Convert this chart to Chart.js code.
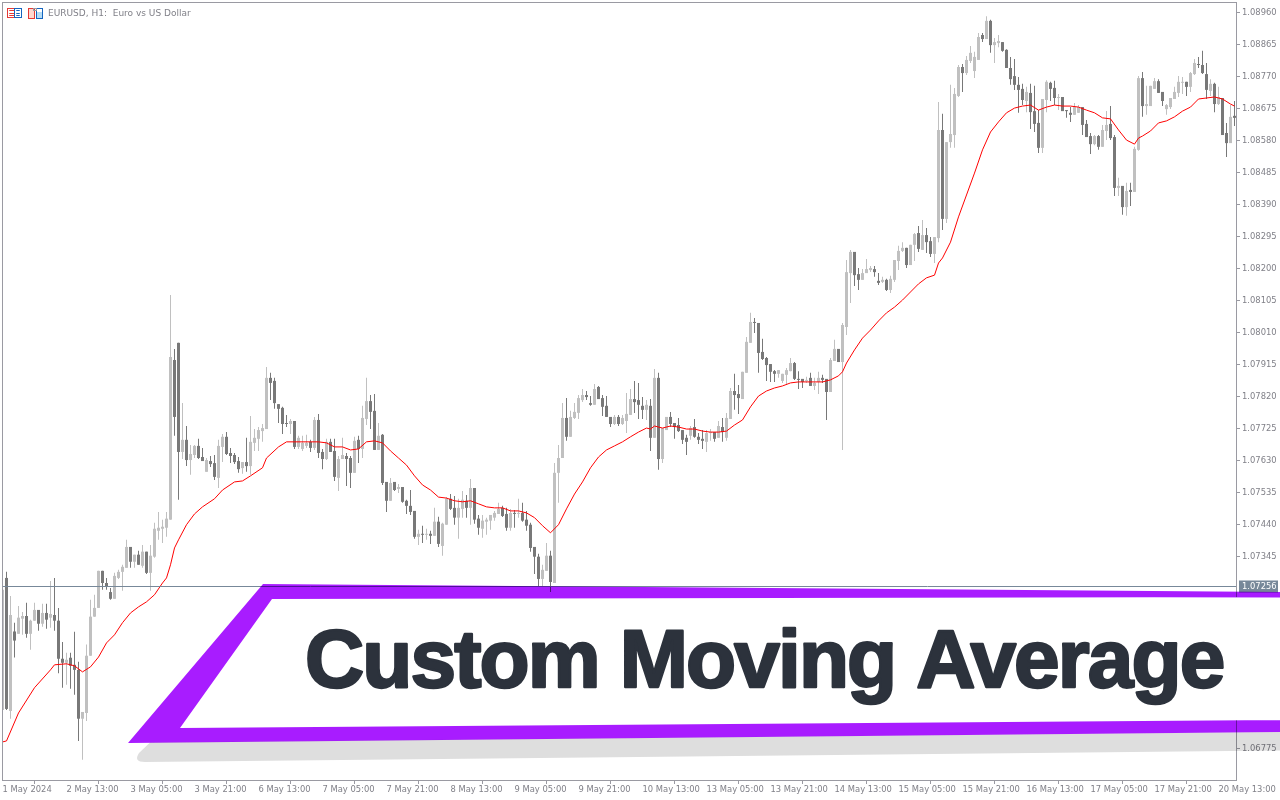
<!DOCTYPE html>
<html>
<head>
<meta charset="utf-8">
<title>EURUSD, H1</title>
<script src="https://cdn.jsdelivr.net/npm/chart.js@4"></script>
<style>
  html, body { margin: 0; padding: 0; background: #ffffff; }
  #wrap { position: relative; width: 1280px; height: 800px; }
</style>
</head>
<body>
<div id="wrap"><canvas id="chart" width="1280" height="800"></canvas></div>
<script>
// Candles
const opens = [
  1.06888,1.07280,1.06885,1.07121,1.07114,1.07159,1.07167,1.07114,1.07153,1.07185,
  1.07144,1.07176,1.07162,1.07170,1.07153,1.07040,1.07028,1.07043,1.07022,1.07007,
  1.06862,1.06879,1.07049,1.07165,1.07191,1.07301,1.07265,1.07238,1.07218,1.07280,
  1.07298,1.07310,1.07372,1.07328,1.07349,1.07316,1.07358,1.07295,1.07343,1.07420,
  1.07426,1.07429,1.07453,1.07927,1.07978,1.07654,1.07690,1.07630,1.07645,1.07672,
  1.07639,1.07595,1.07627,1.07621,1.07577,1.07669,1.07699,1.07651,1.07645,1.07627,
  1.07606,1.07624,1.07612,1.07681,1.07693,1.07716,1.07722,1.07874,1.07865,1.07796,
  1.07785,1.07740,1.07737,1.07746,1.07669,1.07663,1.07672,1.07684,1.07666,1.07749,
  1.07654,1.07633,1.07684,1.07657,1.07577,1.07633,1.07642,1.07636,1.07592,1.07690,
  1.07663,1.07752,1.07805,1.07776,1.07660,1.07705,1.07565,1.07509,1.07565,1.07544,
  1.07550,1.07509,1.07494,1.07479,1.07402,1.07411,1.07408,1.07411,1.07405,1.07447,
  1.07375,1.07438,1.07515,1.07488,1.07459,1.07485,1.07509,1.07488,1.07547,1.07456,
  1.07426,1.07447,1.07450,1.07459,1.07470,1.07488,1.07470,1.07429,1.07473,1.07470,
  1.07473,1.07453,1.07438,1.07372,1.07343,1.07277,1.07301,1.07346,1.07265,1.07592,
  1.07636,1.07755,1.07699,1.07755,1.07770,1.07808,1.07823,1.07799,1.07794,1.07847,
  1.07814,1.07791,1.07758,1.07737,1.07758,1.07737,1.07746,1.07764,1.07811,1.07808,
  1.07791,1.07779,1.07791,1.07696,1.07874,1.07633,1.07719,1.07758,1.07740,1.07734,
  1.07719,1.07696,1.07702,1.07728,1.07699,1.07693,1.07684,1.07710,1.07713,1.07696,
  1.07728,1.07696,1.07752,1.07835,1.07826,1.07811,1.07889,1.07978,1.08040,1.08037,
  1.07951,1.07933,1.07915,1.07894,1.07886,1.07865,1.07883,1.07894,1.07918,1.07871,
  1.07871,1.07865,1.07874,1.07850,1.07862,1.07874,1.07871,1.07832,1.07924,1.07960,
  1.07921,1.08025,1.08185,1.08248,1.08182,1.08165,1.08185,1.08194,1.08197,1.08162,
  1.08159,1.08165,1.08135,1.08165,1.08221,1.08251,1.08260,1.08209,1.08269,1.08304,
  1.08254,1.08298,1.08280,1.08242,1.08289,1.08610,1.08346,1.08574,1.08595,1.08711,
  1.08797,1.08779,1.08815,1.08785,1.08818,1.08892,1.08880,1.08934,1.08862,1.08868,
  1.08871,1.08848,1.08794,1.08770,1.08744,1.08732,1.08696,1.08720,1.08666,1.08631,
  1.08557,1.08699,1.08750,1.08735,1.08705,1.08708,1.08669,1.08661,1.08655,1.08661,
  1.08678,1.08628,1.08592,1.08568,1.08592,1.08560,1.08607,1.08628,1.08589,1.08438,
  1.08444,1.08381,1.08432,1.08426,1.08551,1.08764,1.08681,1.08681,1.08732,1.08755,
  1.08723,1.08672,1.08678,1.08702,1.08720,1.08750,1.08753,1.08738,1.08776,1.08806,
  1.08803,1.08776,1.08726,1.08747,1.08687,1.08705,1.08601,1.08571,1.08652
];
const closes = [
  1.07245,1.06891,1.07170,1.07094,1.07162,1.07167,1.07114,1.07153,1.07185,1.07144,
  1.07176,1.07156,1.07173,1.07153,1.07040,1.07028,1.07037,1.07019,1.07007,1.06862,
  1.06882,1.07049,1.07165,1.07191,1.07301,1.07265,1.07253,1.07218,1.07286,1.07298,
  1.07313,1.07372,1.07328,1.07349,1.07319,1.07358,1.07295,1.07346,1.07426,1.07429,
  1.07432,1.07456,1.07936,1.07758,1.07654,1.07690,1.07630,1.07648,1.07672,1.07636,
  1.07627,1.07630,1.07618,1.07580,1.07672,1.07699,1.07648,1.07642,1.07624,1.07603,
  1.07624,1.07612,1.07684,1.07696,1.07719,1.07725,1.07874,1.07859,1.07799,1.07782,
  1.07737,1.07737,1.07746,1.07669,1.07696,1.07681,1.07681,1.07666,1.07749,1.07651,
  1.07633,1.07684,1.07654,1.07580,1.07633,1.07645,1.07633,1.07592,1.07687,1.07663,
  1.07755,1.07805,1.07773,1.07660,1.07702,1.07562,1.07509,1.07562,1.07541,1.07550,
  1.07506,1.07494,1.07476,1.07402,1.07411,1.07408,1.07411,1.07405,1.07447,1.07381,
  1.07441,1.07515,1.07485,1.07459,1.07488,1.07512,1.07488,1.07547,1.07453,1.07429,
  1.07450,1.07453,1.07467,1.07473,1.07485,1.07464,1.07429,1.07473,1.07470,1.07473,
  1.07450,1.07435,1.07369,1.07343,1.07277,1.07304,1.07346,1.07268,1.07592,1.07636,
  1.07755,1.07699,1.07758,1.07773,1.07814,1.07823,1.07817,1.07794,1.07841,1.07811,
  1.07788,1.07758,1.07737,1.07758,1.07737,1.07755,1.07767,1.07811,1.07802,1.07794,
  1.07779,1.07794,1.07696,1.07874,1.07633,1.07725,1.07758,1.07737,1.07728,1.07716,
  1.07690,1.07684,1.07725,1.07699,1.07690,1.07687,1.07710,1.07713,1.07693,1.07731,
  1.07713,1.07755,1.07835,1.07823,1.07814,1.07892,1.07981,1.08040,1.08037,1.07948,
  1.07930,1.07912,1.07892,1.07886,1.07897,1.07886,1.07897,1.07918,1.07871,1.07868,
  1.07862,1.07868,1.07850,1.07859,1.07874,1.07868,1.07832,1.07927,1.07960,1.07921,
  1.08031,1.08188,1.08248,1.08179,1.08165,1.08185,1.08197,1.08200,1.08188,1.08156,
  1.08165,1.08135,1.08168,1.08224,1.08251,1.08260,1.08209,1.08269,1.08301,1.08257,
  1.08298,1.08277,1.08242,1.08292,1.08610,1.08346,1.08574,1.08598,1.08717,1.08797,
  1.08779,1.08818,1.08839,1.08827,1.08886,1.08880,1.08934,1.08862,1.08871,1.08874,
  1.08845,1.08794,1.08761,1.08744,1.08729,1.08699,1.08723,1.08663,1.08628,1.08557,
  1.08702,1.08753,1.08732,1.08705,1.08708,1.08666,1.08666,1.08655,1.08678,1.08678,
  1.08625,1.08589,1.08568,1.08592,1.08560,1.08610,1.08625,1.08586,1.08438,1.08444,
  1.08381,1.08429,1.08426,1.08554,1.08764,1.08681,1.08687,1.08741,1.08755,1.08720,
  1.08696,1.08684,1.08705,1.08723,1.08753,1.08753,1.08738,1.08779,1.08809,1.08803,
  1.08779,1.08729,1.08747,1.08687,1.08708,1.08595,1.08571,1.08649,1.08646
];
const highs = [
  1.07280,1.07298,1.07226,1.07147,1.07197,1.07179,1.07206,1.07156,1.07206,1.07185,
  1.07203,1.07203,1.07271,1.07280,1.07191,1.07090,1.07058,1.07058,1.07120,1.07031,
  1.06882,1.07082,1.07215,1.07230,1.07301,1.07301,1.07280,1.07250,1.07295,1.07304,
  1.07319,1.07393,1.07372,1.07349,1.07361,1.07378,1.07358,1.07378,1.07444,1.07476,
  1.07453,1.07476,1.08120,1.07960,1.07978,1.07799,1.07731,1.07675,1.07675,1.07693,
  1.07666,1.07636,1.07642,1.07645,1.07690,1.07707,1.07713,1.07666,1.07651,1.07639,
  1.07624,1.07696,1.07761,1.07722,1.07728,1.07737,1.07906,1.07889,1.07874,1.07796,
  1.07788,1.07764,1.07752,1.07746,1.07702,1.07702,1.07705,1.07690,1.07758,1.07767,
  1.07663,1.07693,1.07693,1.07693,1.07642,1.07696,1.07651,1.07642,1.07699,1.07702,
  1.07791,1.07874,1.07823,1.07826,1.07740,1.07707,1.07565,1.07577,1.07565,1.07559,
  1.07550,1.07512,1.07541,1.07479,1.07423,1.07435,1.07426,1.07420,1.07488,1.07462,
  1.07444,1.07520,1.07529,1.07523,1.07515,1.07538,1.07526,1.07574,1.07547,1.07467,
  1.07467,1.07459,1.07467,1.07479,1.07503,1.07494,1.07488,1.07485,1.07482,1.07515,
  1.07503,1.07479,1.07444,1.07372,1.07352,1.07319,1.07384,1.07361,1.07621,1.07675,
  1.07799,1.07814,1.07776,1.07799,1.07823,1.07841,1.07835,1.07820,1.07856,1.07850,
  1.07823,1.07820,1.07758,1.07764,1.07764,1.07764,1.07829,1.07841,1.07865,1.07859,
  1.07817,1.07808,1.07811,1.07900,1.07889,1.07725,1.07758,1.07773,1.07740,1.07755,
  1.07719,1.07705,1.07731,1.07752,1.07710,1.07719,1.07719,1.07722,1.07713,1.07746,
  1.07755,1.07770,1.07844,1.07886,1.07853,1.07892,1.07995,1.08067,1.08052,1.08037,
  1.07990,1.07936,1.07915,1.07897,1.07897,1.07886,1.07903,1.07933,1.07921,1.07894,
  1.07871,1.07877,1.07889,1.07874,1.07892,1.07883,1.07871,1.07933,1.07987,1.07960,
  1.08037,1.08224,1.08254,1.08248,1.08200,1.08197,1.08227,1.08206,1.08206,1.08185,
  1.08174,1.08168,1.08177,1.08224,1.08266,1.08277,1.08260,1.08269,1.08304,1.08325,
  1.08343,1.08319,1.08292,1.08292,1.08693,1.08658,1.08574,1.08744,1.08735,1.08803,
  1.08806,1.08830,1.08859,1.08842,1.08898,1.08898,1.08948,1.08937,1.08883,1.08892,
  1.08871,1.08850,1.08827,1.08821,1.08767,1.08747,1.08738,1.08747,1.08741,1.08669,
  1.08702,1.08758,1.08753,1.08756,1.08717,1.08708,1.08669,1.08678,1.08690,1.08684,
  1.08678,1.08640,1.08601,1.08595,1.08595,1.08625,1.08666,1.08681,1.08595,1.08468,
  1.08444,1.08453,1.08453,1.08560,1.08770,1.08782,1.08741,1.08741,1.08764,1.08761,
  1.08723,1.08687,1.08705,1.08738,1.08770,1.08767,1.08753,1.08782,1.08821,1.08827,
  1.08845,1.08809,1.08761,1.08750,1.08738,1.08705,1.08631,1.08684,1.08696
];
const lows = [
  1.06746,1.06888,1.06862,1.07044,1.07114,1.07111,1.07102,1.07067,1.07153,1.07123,
  1.07135,1.07129,1.07132,1.07123,1.06997,1.06954,1.06963,1.06951,1.06933,1.06796,
  1.06740,1.06855,1.07049,1.07165,1.07191,1.07245,1.07245,1.07215,1.07218,1.07277,
  1.07242,1.07310,1.07310,1.07310,1.07319,1.07310,1.07292,1.07242,1.07340,1.07393,
  1.07384,1.07402,1.07453,1.07702,1.07512,1.07633,1.07612,1.07586,1.07636,1.07633,
  1.07627,1.07595,1.07609,1.07571,1.07547,1.07624,1.07645,1.07621,1.07618,1.07592,
  1.07589,1.07595,1.07586,1.07657,1.07657,1.07684,1.07722,1.07808,1.07782,1.07740,
  1.07707,1.07728,1.07707,1.07663,1.07663,1.07657,1.07666,1.07654,1.07660,1.07636,
  1.07603,1.07630,1.07654,1.07568,1.07538,1.07633,1.07553,1.07547,1.07592,1.07621,
  1.07636,1.07734,1.07722,1.07660,1.07660,1.07556,1.07476,1.07509,1.07538,1.07532,
  1.07503,1.07470,1.07467,1.07396,1.07378,1.07384,1.07393,1.07381,1.07405,1.07372,
  1.07346,1.07438,1.07482,1.07438,1.07396,1.07459,1.07459,1.07438,1.07441,1.07408,
  1.07399,1.07408,1.07423,1.07450,1.07470,1.07461,1.07420,1.07420,1.07429,1.07459,
  1.07447,1.07420,1.07358,1.07292,1.07253,1.07253,1.07301,1.07238,1.07265,1.07503,
  1.07636,1.07687,1.07699,1.07752,1.07752,1.07802,1.07808,1.07791,1.07794,1.07811,
  1.07761,1.07758,1.07728,1.07734,1.07731,1.07734,1.07710,1.07764,1.07770,1.07752,
  1.07752,1.07749,1.07657,1.07696,1.07601,1.07621,1.07719,1.07728,1.07693,1.07713,
  1.07678,1.07645,1.07690,1.07696,1.07678,1.07663,1.07654,1.07687,1.07684,1.07696,
  1.07684,1.07687,1.07752,1.07779,1.07767,1.07811,1.07889,1.07978,1.08007,1.07889,
  1.07927,1.07865,1.07862,1.07862,1.07874,1.07859,1.07853,1.07894,1.07868,1.07841,
  1.07844,1.07859,1.07850,1.07838,1.07826,1.07859,1.07749,1.07832,1.07924,1.07921,
  1.07660,1.08001,1.08096,1.08147,1.08135,1.08165,1.08185,1.08188,1.08174,1.08150,
  1.08156,1.08132,1.08126,1.08159,1.08194,1.08248,1.08200,1.08209,1.08221,1.08248,
  1.08254,1.08245,1.08233,1.08215,1.08277,1.08313,1.08334,1.08557,1.08557,1.08708,
  1.08723,1.08773,1.08809,1.08764,1.08818,1.08871,1.08880,1.08839,1.08809,1.08856,
  1.08842,1.08794,1.08744,1.08729,1.08661,1.08684,1.08663,1.08613,1.08604,1.08542,
  1.08542,1.08663,1.08696,1.08684,1.08669,1.08666,1.08646,1.08634,1.08655,1.08661,
  1.08595,1.08589,1.08539,1.08565,1.08551,1.08560,1.08580,1.08580,1.08414,1.08414,
  1.08358,1.08355,1.08384,1.08426,1.08548,1.08649,1.08655,1.08681,1.08732,1.08720,
  1.08681,1.08655,1.08672,1.08702,1.08708,1.08717,1.08711,1.08723,1.08773,1.08794,
  1.08776,1.08702,1.08711,1.08663,1.08684,1.08595,1.08530,1.08571,1.08622
];

// Red moving average, read at these bars
const maBars = [
  0,1,4,8,12,13,16,18,20,22,24,26,28,30,32,34,36,38,40,41,42,43,44,46,48,50,53,55,58,60,
  62,65,66,69,71,77,79,81,83,85,87,89,91,93,95,97,99,101,103,105,107,109,111,113,115,117,
  119,121,123,125,127,129,131,133,135,137,139,141,143,145,147,149,151,153,155,157,159,161,
  162,163,165,167,169,171,173,175,177,179,181,183,185,187,189,191,193,195,197,199,201,203,
  205,207,209,210,211,213,215,217,219,221,223,225,227,229,231,233,234,235,237,239,241,243,
  245,247,249,251,253,255,257,259,261,263,265,267,269,271,273,275,277,279,281,283,284,285,
  287,289,291,293,295,297,299,301,303,305,307,308
];
const maValues = [
  1.06793,1.06796,1.06879,1.06954,1.07007,1.07022,1.07025,1.07019,1.07001,1.07016,1.07045,
  1.07087,1.07111,1.07147,1.07176,1.07194,1.07209,1.07230,1.07265,1.07280,1.07319,1.07369,
  1.07393,1.07438,1.07470,1.07491,1.07515,1.07541,1.07565,1.07568,1.07583,1.07607,1.07636,
  1.07669,1.07684,1.07684,1.07684,1.07681,1.07669,1.07669,1.07660,1.07663,1.07684,1.07687,
  1.07681,1.07657,1.07636,1.07615,1.07583,1.07556,1.07541,1.07520,1.07517,1.07509,1.07506,
  1.07509,1.07500,1.07491,1.07488,1.07488,1.07479,1.07479,1.07473,1.07459,1.07435,1.07414,
  1.07438,1.07485,1.07529,1.07565,1.07607,1.07639,1.07660,1.07672,1.07684,1.07699,1.07713,
  1.07725,1.07722,1.07731,1.07725,1.07731,1.07728,1.07722,1.07722,1.07716,1.07713,1.07713,
  1.07716,1.07734,1.07749,1.07788,1.07820,1.07835,1.07844,1.07850,1.07859,1.07862,1.07862,
  1.07862,1.07862,1.07868,1.07880,1.07892,1.07918,1.07957,1.07992,1.08016,1.08043,1.08067,
  1.08084,1.08105,1.08129,1.08153,1.08171,1.08179,1.08215,1.08230,1.08277,1.08352,1.08417,
  1.08482,1.08551,1.08604,1.08634,1.08661,1.08675,1.08681,1.08684,1.08669,1.08678,1.08684,
  1.08681,1.08681,1.08678,1.08669,1.08661,1.08646,1.08643,1.08610,1.08580,1.08568,1.08586,
  1.08592,1.08607,1.08631,1.08637,1.08649,1.08666,1.08678,1.08702,1.08705,1.08708,1.08702,
  1.08687,1.08681
];

const xTickLabels = [
  "1 May 2024","2 May 13:00","3 May 05:00","3 May 21:00","6 May 13:00","7 May 05:00","7 May 21:00",
  "8 May 13:00","9 May 05:00","9 May 21:00","10 May 13:00","13 May 05:00","13 May 21:00","14 May 13:00",
  "15 May 05:00","15 May 21:00","16 May 13:00","17 May 05:00","17 May 21:00","20 May 13:00"
];
const yTickValues = [
  1.08960,1.08865,1.08770,1.08675,1.08580,1.08485,1.08390,1.08295,1.08200,1.08105,1.08010,1.07915,
  1.07820,1.07725,1.07630,1.07535,1.07440,1.07345,1.06775
];
const barsPerTick = 16;
const bidPrice = 1.07256;

const upColor = "#c0c0c0";
const downColor = "#787878";
const axisColor = "#9a9aa2";
const labelColor = "#808088";
const bidColor = "#778899";
const tickFont = { family: "'DejaVu Sans'", size: 8.4 };

// Chart frame, bid line with its price tag, header
const chartFrame = {
  id: "chartFrame",
  afterDatasetsDraw(chart) {
    const { ctx, chartArea: a, scales } = chart;
    const bidY = Math.round(scales.y.getPixelForValue(bidPrice)) + 0.5;
    ctx.save();
    ctx.strokeStyle = bidColor;
    ctx.lineWidth = 1;
    ctx.beginPath();
    ctx.moveTo(a.left, bidY);
    ctx.lineTo(a.right, bidY);
    ctx.stroke();
    ctx.strokeStyle = axisColor;
    ctx.strokeRect(a.left + 0.5, a.top + 0.5, a.right - a.left, a.bottom - a.top);
    ctx.fillStyle = bidColor;
    ctx.fillRect(a.right + 3, bidY - 6, 39, 12);
    ctx.fillStyle = "#ffffff";
    ctx.font = "8.4px 'DejaVu Sans'";
    ctx.textAlign = "left";
    ctx.textBaseline = "middle";
    ctx.fillText(bidPrice.toFixed(5), a.right + 6, bidY + 0.5);

    // header text
    ctx.fillStyle = labelColor;
    ctx.font = "9px 'DejaVu Sans'";
    ctx.fillText("EURUSD, H1:  Euro vs US Dollar", 48, 13.5);

    // the two small terminal icons
    ctx.lineWidth = 1;
    ctx.strokeStyle = "#e53935";
    ctx.strokeRect(7.5, 8.5, 7, 9);
    ctx.strokeRect(9.5, 10.5, 5, 0);
    ctx.strokeRect(9.5, 13.5, 5, 0);
    ctx.strokeRect(9.5, 15.5, 5, 0);
    ctx.strokeStyle = "#1565c0";
    ctx.strokeRect(14.5, 8.5, 7, 9);
    ctx.strokeRect(16.5, 10.5, 3, 0);
    ctx.strokeRect(16.5, 13.5, 3, 0);
    ctx.strokeRect(16.5, 15.5, 3, 0);
    ctx.fillStyle = "#ffd7cf";
    ctx.fillRect(29, 9, 5, 9);
    ctx.strokeStyle = "#e53935";
    ctx.strokeRect(28.5, 8.5, 6, 10);
    ctx.fillStyle = "#b5dcf5";
    ctx.fillRect(37, 12, 5, 6);
    ctx.strokeStyle = "#1565c0";
    ctx.strokeRect(36.5, 8.5, 6, 10);
    ctx.strokeStyle = "#9a9aa2";
    ctx.strokeRect(33.5, 8.5, 3, 2);
    ctx.restore();
  },
};

// Purple title banner laid over the lower part of the chart
const titleBanner = {
  id: "titleBanner",
  afterDraw(chart) {
    const { ctx } = chart;
    ctx.save();
    ctx.fillStyle = "#ffffff";
    ctx.beginPath();
    ctx.moveTo(272, 599);
    ctx.lineTo(1280, 597);
    ctx.lineTo(1280, 720);
    ctx.lineTo(180, 728);
    ctx.closePath();
    ctx.fill();

    ctx.globalCompositeOperation = "multiply";
    // drop shadow
    ctx.fillStyle = "#dedede";
    ctx.beginPath();
    ctx.moveTo(150, 742.6);
    ctx.lineTo(139, 753);
    ctx.quadraticCurveTo(133, 762, 145, 762);
    ctx.lineTo(1280, 750.5);
    ctx.lineTo(1280, 732);
    ctx.closePath();
    ctx.fill();
    // frame
    ctx.fillStyle = "#a81cff";
    ctx.beginPath();
    ctx.moveTo(263, 584);
    ctx.lineTo(1280, 592);
    ctx.lineTo(1280, 732);
    ctx.lineTo(128, 743);
    ctx.closePath();
    ctx.moveTo(272, 599);
    ctx.lineTo(180, 728);
    ctx.lineTo(1280, 720);
    ctx.lineTo(1280, 597);
    ctx.closePath();
    ctx.fill();
    ctx.globalCompositeOperation = "source-over";

    ctx.fillStyle = "#2c323c";
    ctx.strokeStyle = "#2c323c";
    ctx.lineWidth = 2.4;
    ctx.lineJoin = "round";
    ctx.font = "bold 82px 'Liberation Sans'";
    ctx.letterSpacing = "-1.9px";
    ctx.textAlign = "left";
    ctx.textBaseline = "alphabetic";
    ctx.fillText("Custom Moving Average", 305, 687);
    ctx.strokeText("Custom Moving Average", 305, 687);
    ctx.restore();
  },
};

const bars = opens.map((_, i) => i);
const candleColors = bars.map((i) => (closes[i] >= opens[i] ? upColor : downColor));

new Chart(document.getElementById("chart"), {
  type: "bar",
  plugins: [chartFrame, titleBanner],
  data: {
    datasets: [
      {
        type: "line",
        label: "Moving Average",
        data: maBars.map((b, i) => ({ x: b, y: maValues[i] })),
        borderColor: "#ff0000",
        borderWidth: 1,
        pointRadius: 0,
        tension: 0,
        order: 0,
      },
      {
        label: "Body",
        data: bars.map((i) => ({ x: i, y: [opens[i], closes[i]] })),
        backgroundColor: candleColors,
        borderWidth: 0,
        inflateAmount: 0,
        barThickness: 3,
        grouped: false,
        order: 1,
      },
      {
        label: "Wick",
        data: bars.map((i) => ({ x: i, y: [lows[i], highs[i]] })),
        backgroundColor: candleColors,
        borderWidth: 0,
        inflateAmount: 0,
        barThickness: 1,
        grouped: false,
        order: 2,
      },
    ],
  },
  options: {
    responsive: false,
    animation: false,
    events: [],
    layout: { padding: { left: 2, top: 2, right: 0, bottom: 0 } },
    plugins: { legend: { display: false }, tooltip: { enabled: false } },
    scales: {
      x: {
        type: "linear",
        offset: false,
        min: -0.125,
        max: 308.375,
        afterBuildTicks: (scale) => {
          scale.ticks = xTickLabels.map((_, i) => ({ value: i * barsPerTick }));
        },
        afterFit: (scale) => {
          scale.height = 20;
          scale.paddingLeft = 0;
          scale.paddingRight = 0;
        },
        grid: { drawOnChartArea: false, tickColor: axisColor, tickLength: 4 },
        border: { color: axisColor },
        ticks: {
          autoSkip: false,
          maxRotation: 0,
          align: "start",
          padding: 1,
          color: labelColor,
          font: tickFont,
          callback: (_, i) => xTickLabels[i],
        },
      },
      y: {
        type: "linear",
        position: "right",
        min: 1.0668,
        max: 1.0899,
        afterBuildTicks: (scale) => {
          scale.ticks = yTickValues.map((v) => ({ value: v }));
        },
        afterFit: (scale) => {
          scale.width = 44;
          scale.paddingTop = 0;
          scale.paddingBottom = 0;
        },
        grid: { drawOnChartArea: false, tickColor: axisColor, tickLength: 4 },
        border: { color: axisColor },
        ticks: {
          autoSkip: false,
          padding: 2,
          labelOffset: 1,
          color: labelColor,
          font: tickFont,
          callback: (v) => v.toFixed(5),
        },
      },
    },
  },
});
</script>
</body>
</html>
